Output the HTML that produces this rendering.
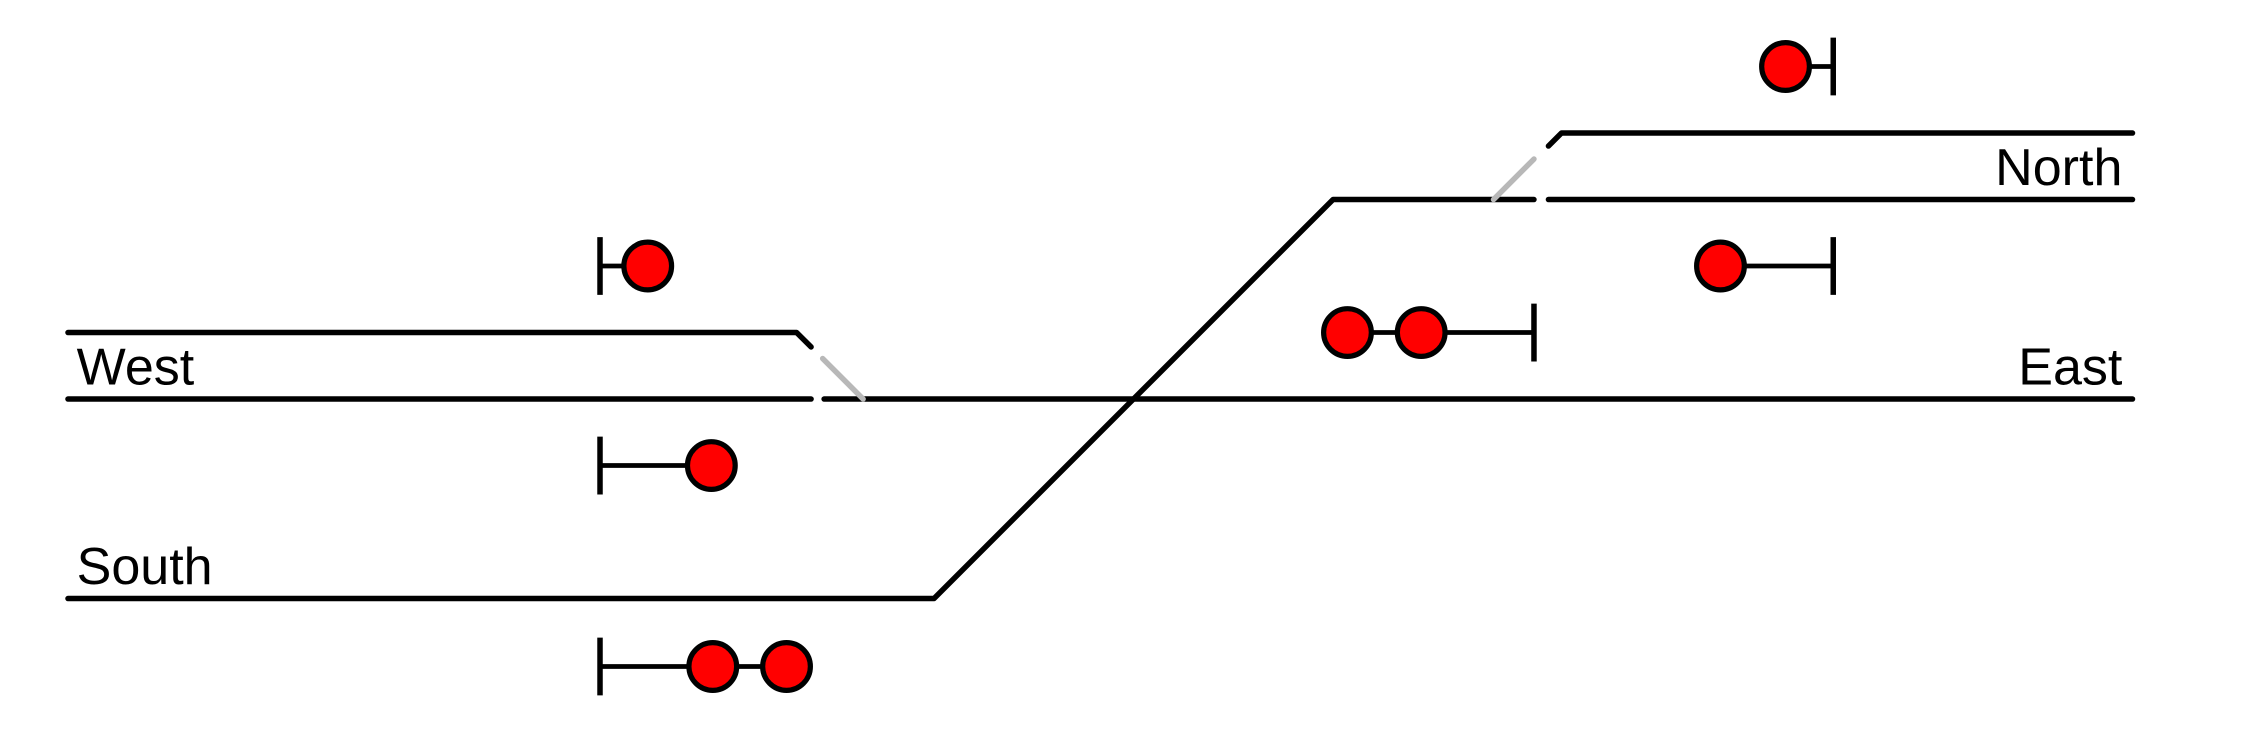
<!DOCTYPE html>
<html><head><meta charset="utf-8"><style>
html,body{margin:0;padding:0;background:#fff;}
svg{display:block;}
text{font-family:"Liberation Sans",sans-serif;font-size:36px;fill:#000;}
</style></head><body>
<svg id="c" width="2267" height="733" viewBox="0 0 1568 507" xmlns="http://www.w3.org/2000/svg">
<text x="53" y="266">West</text>
<text x="1468" y="266" text-anchor="end">East</text>
<text x="1468" y="128" text-anchor="end">North</text>
<text x="53" y="404">South</text>
</svg>
<script>
const trackNames = ['west-upper','west-lower','east-main','south-crossover','north-lower','north-upper'];
const trackPoints = [
 [[47,230],[551,230],[561,240]],
 [[47,276],[561,276]],
 [[570,276],[1475,276]],
 [[47,414],[646,414],[922,138],[1061,138]],
 [[1071,138],[1475,138]],
 [[1071,101],[1080,92],[1475,92]]
];
const switchNames = ['west-switch-blade','north-switch-blade'];
const switchPoints = [[[569,248],[597,276]],[[1033,138],[1061,110]]];
const signalNames = ['signal-west-upper','signal-west-lower','signal-south','signal-north-top','signal-north-lower','signal-east'];
const signalBarX = [415,415,415,1268,1268,1061];
const signalY = [184,322,461,46,184,230];
const signalLamps = [[448],[492],[493,544],[1235],[1190],[983,932]];

const svg = document.getElementById('c');
const NS = 'http://www.w3.org/2000/svg';
function poly(pts, color, w){
  const p = document.createElementNS(NS,'polyline');
  p.setAttribute('points', pts.map(q=>q.join(',')).join(' '));
  p.setAttribute('fill','none');
  p.setAttribute('stroke',color);
  p.setAttribute('stroke-width',w);
  p.setAttribute('stroke-linecap','round');
  p.setAttribute('stroke-linejoin','round');
  svg.appendChild(p);
  return p;
}
trackPoints.forEach((pts,i)=>{
  const p = poly(pts,'#000',3.8);
  
  
});
switchPoints.forEach((pts,i)=>{
  const p = poly(pts,'#b8b8b8',3.8);
  
  
});
signalNames.forEach((nm,i)=>{
  const g = document.createElementNS(NS,'g');
  
  
  const y = signalY[i], bx = signalBarX[i];
  const bar = document.createElementNS(NS,'line');
  bar.setAttribute('x1',bx);bar.setAttribute('x2',bx);
  bar.setAttribute('y1',y-20);bar.setAttribute('y2',y+20);
  bar.setAttribute('stroke','#000');bar.setAttribute('stroke-width',3.8);
  g.appendChild(bar);
  const lamps = signalLamps[i];
  const far = lamps.reduce((a,b)=>Math.abs(b-bx)>Math.abs(a-bx)?b:a);
  const stem = document.createElementNS(NS,'line');
  stem.setAttribute('x1',bx);stem.setAttribute('x2',far);
  stem.setAttribute('y1',y);stem.setAttribute('y2',y);
  stem.setAttribute('stroke','#000');stem.setAttribute('stroke-width',3.3);
  g.appendChild(stem);
  lamps.forEach(lx=>{
    const c = document.createElementNS(NS,'circle');
    c.setAttribute('cx',lx);c.setAttribute('cy',y);c.setAttribute('r',16.5);
    c.setAttribute('fill','#ff0000');c.setAttribute('stroke','#000');c.setAttribute('stroke-width',3.6);
    
    
    g.appendChild(c);
  });
  svg.appendChild(g);
});
</script>
</body></html>
